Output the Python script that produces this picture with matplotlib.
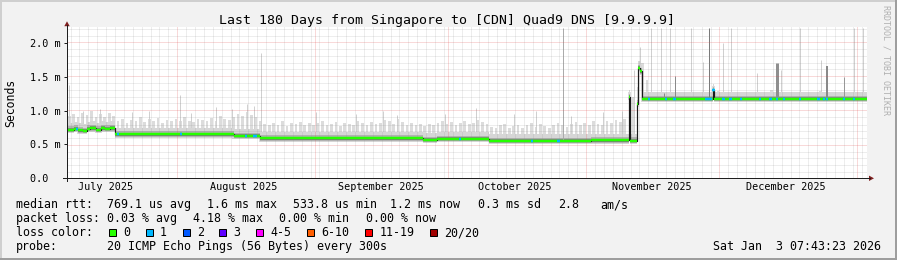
import numpy as np
import matplotlib
matplotlib.use("Agg")
import matplotlib.pyplot as plt
from matplotlib.patches import Polygon, Rectangle
from matplotlib.lines import Line2D
from datetime import datetime, timedelta

MONO = "DejaVu Sans Mono"
plt.rcParams["font.family"] = [MONO]

# ------------------------------------------------------------------ data
title = "Last 180 Days from Singapore to [CDN] Quad9 DNS [9.9.9.9]"
end_time = datetime(2026, 1, 3, 7, 43, 23)
span_days = 180

month_labels = ["July 2025", "August 2025", "September 2025",
                "October 2025", "November 2025", "December 2025"]
month_label_dates = [datetime(2025, 7, 16), datetime(2025, 8, 16), datetime(2025, 9, 16),
                     datetime(2025, 10, 16), datetime(2025, 11, 16), datetime(2025, 12, 16)]
month_start_dates = [datetime(2025, 8, 1), datetime(2025, 9, 1), datetime(2025, 10, 1),
                     datetime(2025, 11, 1), datetime(2025, 12, 1), datetime(2026, 1, 1)]

ytick_vals = [0.0, 0.5, 1.0, 1.5, 2.0]
ytick_labels = ["0.0  ", "0.5 m", "1.0 m", "1.5 m", "2.0 m"]
y_top = 2.23

# median rtt (ms) as a step series: value holds from the given day (days since start)
median_day = [0, 1.5, 2.5, 3.6, 4.4, 5.2, 6.5, 7.6, 8.6, 9.6, 10.7, 37.5, 43.5,
              80.2, 83.3, 95.0, 117.8, 126.35, 126.6, 128.3, 128.55, 129.0, 129.3,
              145.35, 145.6]
median_ms = [0.72, 0.73, 0.71, 0.70, 0.73, 0.74, 0.72, 0.74, 0.73, 0.74, 0.65, 0.625, 0.59,
             0.565, 0.58, 0.55, 0.56, 1.20, 0.555, 1.10, 1.63, 1.58, 1.17,
             1.30, 1.17]

# samples where 1 of 20 pings was lost
loss1_days = [2.2, 11.5, 25.6, 40.2, 42.0, 42.5, 88.5, 104.7, 110.6, 130.9, 134.7,
              136.7, 143.9, 144.4, 144.9, 145.45, 147.7, 149.3, 151.7, 156.0, 158.3,
              159.8, 161.3, 164.9, 169.1, 170.3, 171.0, 174.8, 177.0]

# upper edge of the light smoke, one value per day (ms)
smoke_top_ms = (
    [0.92, 0.95, 0.90, 0.97, 0.93, 0.99, 0.91, 0.95, 0.90, 0.96, 0.92]
    + [0.84, 0.88, 0.82, 0.86, 0.85, 0.90, 0.83, 0.87, 0.84, 0.89, 0.82, 0.86, 0.85, 0.88,
       0.84, 0.90, 0.85, 0.83, 0.87, 0.86, 0.84, 0.89, 0.85, 0.92, 0.88, 0.86, 0.90]
    + [0.95, 0.92, 0.98, 0.94, 0.90, 0.85]
    + [0.80, 0.78, 0.82, 0.79, 0.84, 0.77, 0.81, 0.80, 0.83, 0.78, 0.82, 0.79, 0.81, 0.84,
       0.78, 0.80, 0.83, 0.77, 0.82, 0.80, 0.79, 0.85, 0.81, 0.78, 0.83, 0.80, 0.82, 0.86,
       0.84, 0.80, 0.88, 0.83, 0.79, 0.81, 0.78, 0.80, 0.77]
    + [0.80, 0.78, 0.82, 0.84, 0.80, 0.83, 0.79, 0.81, 0.85, 0.80, 0.82, 0.86, 0.83, 0.80]
    + [0.76, 0.74, 0.78, 0.80, 0.75, 0.77, 0.79, 0.74, 0.78, 0.82, 0.76, 0.80, 0.77, 0.75,
       0.79, 0.81, 0.78, 0.76, 0.80, 0.83, 0.78, 0.82, 0.79, 0.84, 0.80, 0.78, 0.85, 0.82,
       0.86, 0.83, 0.88]
    + [1.05, 1.20, 1.35, 1.70, 1.45]
    + [1.25, 1.27, 1.24, 1.26, 1.28, 1.25, 1.23, 1.26, 1.27, 1.24, 1.28, 1.25, 1.26, 1.24,
       1.27, 1.29, 1.25, 1.26, 1.24, 1.27, 1.25, 1.28, 1.26, 1.24, 1.27, 1.25, 1.26, 1.30,
       1.25, 1.27, 1.24, 1.26, 1.25, 1.28, 1.26, 1.24, 1.27, 1.25, 1.29, 1.26, 1.24, 1.27,
       1.25, 1.26, 1.28, 1.25, 1.24, 1.26, 1.25]
)

# isolated light smoke spikes (day, top ms)
light_spike_day = [0.5, 3.6, 7.5, 14.6, 18.5, 25.5, 27.9, 33.5, 37.2, 40.5, 42.0, 43.6,
                   56.0, 65.0, 71.2, 74.3, 85.0, 92.0, 100.5, 105.5, 113.4, 120.5, 124.8,
                   127.6, 129.0, 131.3, 133.6, 135.6, 140.3, 143.0, 147.7, 149.3, 155.2,
                   160.6, 165.0, 169.6, 177.0, 179.0]
light_spike_top = [1.38, 1.00, 1.02, 0.98, 1.00, 1.23, 0.96, 1.05, 1.02, 1.10, 1.07, 1.85,
                   0.98, 0.95, 1.00, 0.93, 0.95, 1.04, 0.95, 1.00, 0.92, 0.98, 1.00,
                   1.60, 1.94, 2.22, 2.22, 2.22, 2.22, 1.72, 2.00, 2.22, 1.55,
                   1.60, 2.22, 1.75, 2.22, 2.22]

# dense smoke spikes (day, top ms, width px, grey level)
dark_spike_day = [111.5, 134.4, 136.7, 144.5, 159.7, 171.0, 174.8]
dark_spike_top = [2.22, 1.26, 1.51, 2.22, 1.70, 1.66, 1.50]
dark_spike_wpx = [1, 1, 1, 1, 3, 2, 1]
dark_spike_col = ["#ababab", "#8a8a8a", "#8a8a8a", "#7a7a7a", "#8f8f8f", "#8a8a8a", "#9a9a9a"]

loss_labels = ["0", "1", "2", "3", "4-5", "6-10", "11-19", "20/20"]
loss_colors = ["#26ff00", "#00b8ff", "#0059ff", "#5e00ff", "#ff00ff", "#ff5e00", "#ff0000", "#a10000"]

rtt_stats = ["769.1 us avg", "1.6 ms max", "533.8 us min", "1.2 ms now", "0.3 ms sd", "2.8", "am/s"]
loss_stats = ["0.03 % avg", "4.18 % max", "0.00 % min", "0.00 % now"]
probe_text = "20 ICMP Echo Pings (56 Bytes) every 300s"
stamp_text = "Sat Jan  3 07:43:23 2026"

# ------------------------------------------------------------------ helpers
W, H = 897, 260
start_time = end_time - timedelta(days=span_days)


def to_day(dt):
    return (dt - start_time).total_seconds() / 86400.0


def fx(px):
    return px / W


def fy(py):
    return 1.0 - py / H


PX = 72.0 / 100.0  # points per pixel

fig = plt.figure(figsize=(W / 100, H / 100), dpi=100)
fig.patch.set_facecolor("#f2f2f2")

AX_L, AX_R, AX_T, AX_B = 67.0, 867.0, 27.3, 178.3
ax = fig.add_axes([fx(AX_L), fy(AX_B), (AX_R - AX_L) / W, (AX_B - AX_T) / H])
ax.set_facecolor("white")
ax.set_xlim(0, span_days)
ax.set_ylim(0, y_top)
for s in ax.spines.values():
    s.set_visible(False)

XS = (AX_R - AX_L) / span_days          # px per day
YS = (AX_B - AX_T) / y_top              # px per ms
Y0 = H - AX_B                           # display y of value 0


def snap_x(days):
    p = AX_L + np.asarray(days) * XS
    return (np.floor(p) + 0.5 - AX_L) / XS


def snap_y(vals):
    p = Y0 + np.asarray(vals) * YS
    return (np.floor(p) + 0.5 - Y0) / YS


# ------------------------------------------------------------------ smoke
mday = np.array(median_day, dtype=float)
mval = np.array(median_ms, dtype=float)
top = np.array(smoke_top_ms, dtype=float)
assert len(top) == span_days

edges = np.union1d(np.arange(0, span_days + 1, dtype=float), mday)
edges = edges[edges <= span_days]
med_e = mval[np.searchsorted(mday, edges, side="right") - 1]

day_c = np.arange(span_days) + 0.5
med_c = mval[np.searchsorted(mday, day_c, side="right") - 1]
# comb of light smoke, one tooth per day
ax.bar(day_c, np.maximum(top - (med_c - 0.05), 0.12), bottom=med_c - 0.05, width=0.62,
       color="#dcdcdc", lw=0, zorder=1)
ax.vlines(light_spike_day, np.interp(light_spike_day, edges, med_e), light_spike_top,
          colors="#d0d0d0", lw=1.0 * PX, zorder=1.05)
ax.fill_between(edges, med_e - 0.05, med_e + 0.10, step="post", color="#d6d6d6", lw=0, zorder=1.1)
ax.fill_between(edges, med_e - 0.035, med_e + 0.05, step="post", color="#b2b2b2", lw=0, zorder=1.2)
ax.fill_between(edges, med_e - 0.02, med_e + 0.025, step="post", color="#858585", lw=0, zorder=1.3)
for d, t, w, c in zip(dark_spike_day, dark_spike_top, dark_spike_wpx, dark_spike_col):
    base = mval[np.searchsorted(mday, d, side="right") - 1]
    ax.vlines(d, base, t, colors=c, lw=w * PX, zorder=1.35)

# ------------------------------------------------------------------ grid (drawn over data)
minor_col = (0.56, 0.56, 0.56, 0.32)
major_col = (0.87, 0.31, 0.31, 0.42)
dots = (0, (1, 1))
hmin = [v for v in np.arange(0.1, y_top, 0.1) if abs(v / 0.5 - round(v / 0.5)) > 1e-6]
ax.hlines(snap_y(hmin), 0, span_days, colors=[minor_col], lw=PX, linestyles=[dots], zorder=2)
ax.hlines(snap_y(ytick_vals[1:]), 0, span_days, colors=[major_col], lw=PX, linestyles=[dots], zorder=2.1)
first_minor = to_day(datetime(2025, 7, 8))
majors = [to_day(d) for d in month_start_dates]
vmin = [d for d in np.arange(first_minor, span_days, 2.0)
        if min(abs(d - m) for m in majors) > 0.3]
ax.vlines(snap_x(vmin), 0, y_top, colors=[minor_col], lw=PX, linestyles=[dots], zorder=2)
ax.vlines(snap_x(majors), 0, y_top, colors=[major_col], lw=PX, linestyles=[dots], zorder=2.1)

# ------------------------------------------------------------------ median line
step_x = np.append(mday, span_days)
step_y = np.append(mval, mval[-1])
ax.step(step_x, step_y, where="post", color="#1a1a1a", lw=1.2 * PX, zorder=3)
ax.hlines(mval, mday, step_x[1:], colors=loss_colors[0], lw=2.5 * PX, zorder=3.1)
l1_val = mval[np.searchsorted(mday, loss1_days, side="right") - 1]
ax.hlines(l1_val, np.array(loss1_days) - 0.25, np.array(loss1_days) + 0.25,
          colors=loss_colors[1], lw=2.5 * PX, zorder=3.2)

# ------------------------------------------------------------------ ticks
ax.set_yticks(ytick_vals)
ax.set_yticklabels(ytick_labels)
ax.tick_params(axis="y", length=3 * PX, width=PX, color="#1f1f1f", pad=2.6,
               labelsize=7.3, labelcolor="black")
ax.set_xticks([to_day(d) for d in month_label_dates])
ax.set_xticklabels(month_labels)
ax.tick_params(axis="x", length=0, pad=3.0, labelsize=7.3, labelcolor="black")

# axis lines and arrows
axis_col = "#1f1f1f"
arrow_col = "#801f1f"
fig.add_artist(Line2D([fx(AX_L), fx(AX_L)], [fy(AX_B + 3), fy(25)], color=axis_col, lw=PX))
fig.add_artist(Line2D([fx(AX_L - 4), fx(870)], [fy(AX_B), fy(AX_B)], color=axis_col, lw=PX))
fig.add_artist(Polygon([[fx(AX_L), fy(21.3)], [fx(AX_L - 2.7), fy(26.2)], [fx(AX_L + 2.7), fy(26.2)]],
                       closed=True, color=arrow_col, lw=0, transform=fig.transFigure))
fig.add_artist(Polygon([[fx(874), fy(AX_B)], [fx(869), fy(AX_B - 2.7)], [fx(869), fy(AX_B + 2.7)]],
                       closed=True, color=arrow_col, lw=0, transform=fig.transFigure))

# ------------------------------------------------------------------ texts
fig.text(fx(446.5), fy(24.0), title, ha="center", va="baseline", fontsize=9.5, family=MONO)
fig.text(fx(11), fy(102.5), "Seconds", rotation=90, ha="center", va="center", fontsize=8.3, family=MONO)
fig.text(fx(885.5), fy(60), "RRDTOOL / TOBI OETIKER", rotation=-90, ha="center", va="center",
         fontsize=6.0, color="#b0b0b0", family=MONO)

LFS = 8.4
row_y = [208.3, 222.3, 236.0, 250.0]
fig.text(fx(16), fy(row_y[0]), "median rtt:", fontsize=LFS, va="baseline", family=MONO)
for x, s in zip([107, 207, 293, 390, 478, 558, 600], rtt_stats):
    fig.text(fx(x), fy(row_y[0]), s, fontsize=LFS, va="baseline", family=MONO)
fig.text(fx(16), fy(row_y[1]), "packet loss:", fontsize=LFS, va="baseline", family=MONO)
for x, s in zip([107, 193, 279, 366], loss_stats):
    fig.text(fx(x), fy(row_y[1]), s, fontsize=LFS, va="baseline", family=MONO)
fig.text(fx(16), fy(row_y[2]), "loss color:", fontsize=LFS, va="baseline", family=MONO)
bx = 108.7
for lab, col in zip(loss_labels, loss_colors):
    fig.add_artist(Rectangle((fx(bx), fy(236.0)), 7.0 / W, 7.0 / H, facecolor=col,
                             edgecolor="black", lw=PX, transform=fig.transFigure))
    fig.text(fx(bx + 14.3), fy(row_y[2]), lab, fontsize=LFS, va="baseline", family=MONO)
    bx = bx + 14.3 + 7.0 * len(lab) + 15.6
fig.text(fx(16), fy(row_y[3]), "probe:", fontsize=LFS, va="baseline", family=MONO)
fig.text(fx(107), fy(row_y[3]), probe_text, fontsize=LFS, va="baseline", family=MONO)
fig.text(fx(880.5), fy(row_y[3]), stamp_text, fontsize=LFS, va="baseline", ha="right", family=MONO)

# frame shading
fig.add_artist(Rectangle((0, 1 - 2 / H), 1, 2 / H, facecolor="#cfcfcf", lw=0, transform=fig.transFigure))
fig.add_artist(Rectangle((0, 0), 2 / W, 1, facecolor="#cfcfcf", lw=0, transform=fig.transFigure))
fig.add_artist(Rectangle((0, 0), 1, 2 / H, facecolor="#9e9e9e", lw=0, transform=fig.transFigure))
fig.add_artist(Rectangle((1 - 2 / W, 0), 2 / W, 1, facecolor="#9e9e9e", lw=0, transform=fig.transFigure))

fig.savefig("out.png", dpi=100, facecolor=fig.get_facecolor())
